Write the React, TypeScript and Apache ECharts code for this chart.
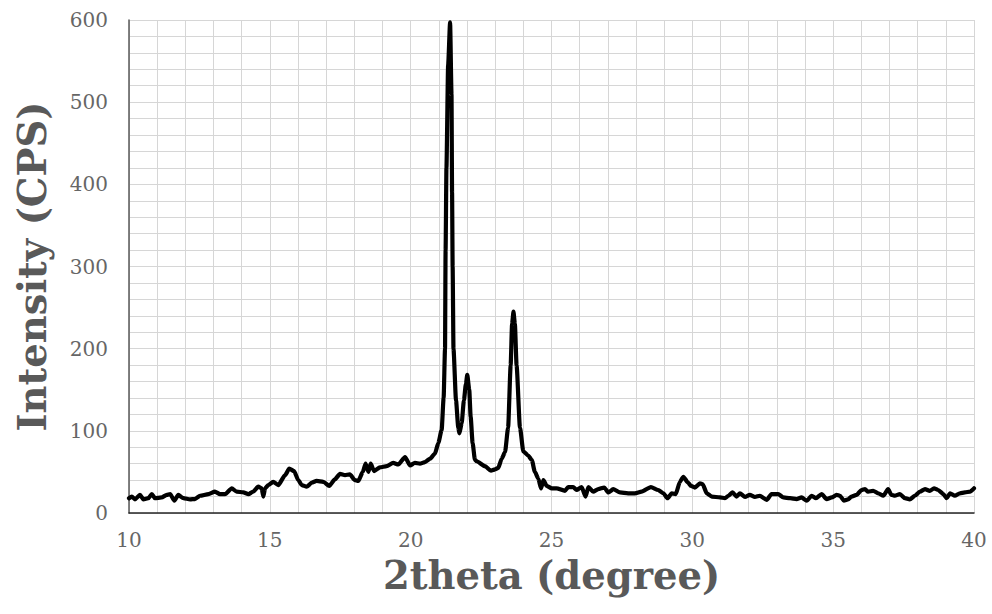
import React, { useEffect, useRef } from "react";
import * as echarts from "echarts";

// 2theta (degree) vs Intensity (CPS)
const twoTheta: number[] = [
  10.0, 10.1, 10.21, 10.39, 10.51, 10.69, 10.81, 10.92, 11.16, 11.34, 11.46, 11.61, 11.75, 11.93,
  12.17, 12.34, 12.52, 12.82, 13.05, 13.23, 13.41, 13.65, 13.82, 14.06, 14.24, 14.41, 14.59, 14.71,
  14.77, 14.83, 14.95, 15.12, 15.3, 15.54, 15.69, 15.86, 16.01, 16.13, 16.31, 16.49, 16.66, 16.9,
  17.11, 17.31, 17.49, 17.67, 17.84, 18.02, 18.14, 18.3, 18.4, 18.5, 18.58, 18.7, 18.91, 19.15,
  19.38, 19.56, 19.8, 19.98, 20.15, 20.33, 20.51, 20.68, 20.86, 20.98, 21.1, 21.17, 21.22, 21.24,
  21.27, 21.33, 21.4, 21.45, 21.47, 21.49, 21.52, 21.61, 21.69, 21.73, 21.81, 21.89, 21.96, 22.01,
  22.08, 22.13, 22.2, 22.28, 22.34, 22.64, 22.85, 22.99, 23.11, 23.23, 23.35, 23.46, 23.55, 23.6,
  23.65, 23.7, 23.76, 23.88, 24.0, 24.17, 24.3, 24.41, 24.53, 24.63, 24.71, 24.83, 25.01, 25.18,
  25.48, 25.59, 25.77, 25.89, 26.07, 26.21, 26.31, 26.48, 26.66, 26.87, 27.02, 27.19, 27.43, 27.72,
  27.96, 28.2, 28.53, 28.79, 28.97, 29.12, 29.27, 29.41, 29.56, 29.68, 29.85, 29.95, 30.09, 30.27,
  30.37, 30.51, 30.69, 30.98, 31.16, 31.28, 31.43, 31.57, 31.69, 31.87, 32.04, 32.22, 32.4, 32.64,
  32.81, 33.05, 33.23, 33.47, 33.7, 33.88, 34.06, 34.24, 34.39, 34.59, 34.77, 34.95, 35.12, 35.24,
  35.38, 35.53, 35.65, 35.83, 36.01, 36.13, 36.24, 36.42, 36.6, 36.78, 36.95, 37.07, 37.19, 37.37,
  37.55, 37.72, 37.9, 38.08, 38.26, 38.43, 38.58, 38.73, 38.91, 39.03, 39.15, 39.32, 39.5, 39.68,
  39.86, 40.0,
];

const intensity: number[] = [
  18, 20, 16.6, 22, 16.6, 18, 23, 18, 19, 22, 23, 15, 22, 18,
  16.6, 17, 21, 23, 26, 23, 23, 30, 26, 25, 23, 26, 32, 30,
  20, 30, 34, 38, 34, 46, 54, 51, 40, 34, 32, 37, 39, 38,
  33, 41, 47.5, 46, 47, 40, 39, 50, 60, 50, 60, 51, 55.6, 57,
  61, 59, 68, 58, 61, 60, 62, 66, 72, 85, 101, 140, 200, 320,
  420, 545, 597, 510, 390, 300, 200, 137, 104, 97, 109, 137, 157, 168,
  150, 117, 85, 65, 63, 57, 51.5, 53, 55, 66, 74, 104, 180, 230,
  245, 230, 180, 104, 75, 70, 64.5, 50, 42, 30, 40, 33, 30, 30,
  27, 31.6, 31.6, 28, 31.6, 20, 31.6, 26, 29, 31, 25, 29, 25, 24,
  24, 26, 31.6, 28, 24, 18, 24, 23, 38, 44, 37, 33, 31, 36,
  35, 24, 20, 19, 18, 21, 25, 20, 24, 19.5, 22, 19.5, 21, 16,
  23, 23, 19, 18, 17, 19, 15, 21, 18, 23, 17, 19, 22, 21,
  15, 16.5, 20, 22, 28, 29, 26, 27, 24, 21, 29, 22, 21, 23,
  18, 16.5, 21, 26, 29, 27, 30, 28, 23, 18, 24, 21, 24, 25,
  26, 30,
];

const xTicks = { min: 10, max: 40, interval: 5 };
const yTicks = { min: 0, max: 600, interval: 100 };
const xTitle = "2theta (degree)";
const yTitle = "Intensity (CPS)";

export default function App() {
  const ref = useRef<HTMLDivElement>(null);

  useEffect(() => {
    if (!ref.current) return;
    const chart = echarts.init(ref.current, undefined, { renderer: "svg" });
    const data = twoTheta.map((x, i) => [x, intensity[i]]);
    const grid = "#d6d6d6";
    const labelFont = { color: "#666666", fontFamily: "DejaVu Serif", fontSize: 20 };
    const titleFont = { color: "#595959", fontFamily: "DejaVu Serif", fontWeight: "bold", fontSize: 38.5 };
    chart.setOption({
      animation: false,
      backgroundColor: "#ffffff",
      grid: { left: 129, right: 18, top: 20, bottom: 101, containLabel: false },
      xAxis: {
        type: "value",
        min: xTicks.min,
        max: xTicks.max,
        interval: xTicks.interval,
        name: xTitle,
        nameLocation: "middle",
        nameGap: 43,
        nameTextStyle: titleFont,
        axisLine: { show: true, onZero: false, lineStyle: { color: "#262626", width: 1.5 } },
        axisTick: { show: false },
        axisLabel: { ...labelFont, margin: 17 },
        splitLine: { show: true, lineStyle: { color: grid, width: 1 } },
        minorTick: { show: false, splitNumber: 5 },
        minorSplitLine: { show: true, lineStyle: { color: grid, width: 1 } },
      },
      yAxis: {
        type: "value",
        min: yTicks.min,
        max: yTicks.max,
        interval: yTicks.interval,
        name: yTitle,
        nameLocation: "middle",
        nameGap: 77,
        nameTextStyle: titleFont,
        axisLine: { show: true, lineStyle: { color: "#595959", width: 1.5 } },
        axisTick: { show: false },
        axisLabel: { ...labelFont, margin: 21 },
        splitLine: { show: true, lineStyle: { color: grid, width: 1 } },
        minorTick: { show: false, splitNumber: 5 },
        minorSplitLine: { show: true, lineStyle: { color: grid, width: 1 } },
      },
      series: [
        {
          type: "line",
          data,
          showSymbol: false,
          symbol: "none",
          smooth: 0.2,
          smoothMonotone: "x",
          lineStyle: { color: "#000000", width: 4.2, cap: "round", join: "round" },
        },
      ],
    });
    return () => chart.dispose();
  }, []);

  return (
    <div
      ref={ref}
      style={{ position: "fixed", left: 0, top: 0, width: 992, height: 614, background: "#fff" }}
    />
  );
}
